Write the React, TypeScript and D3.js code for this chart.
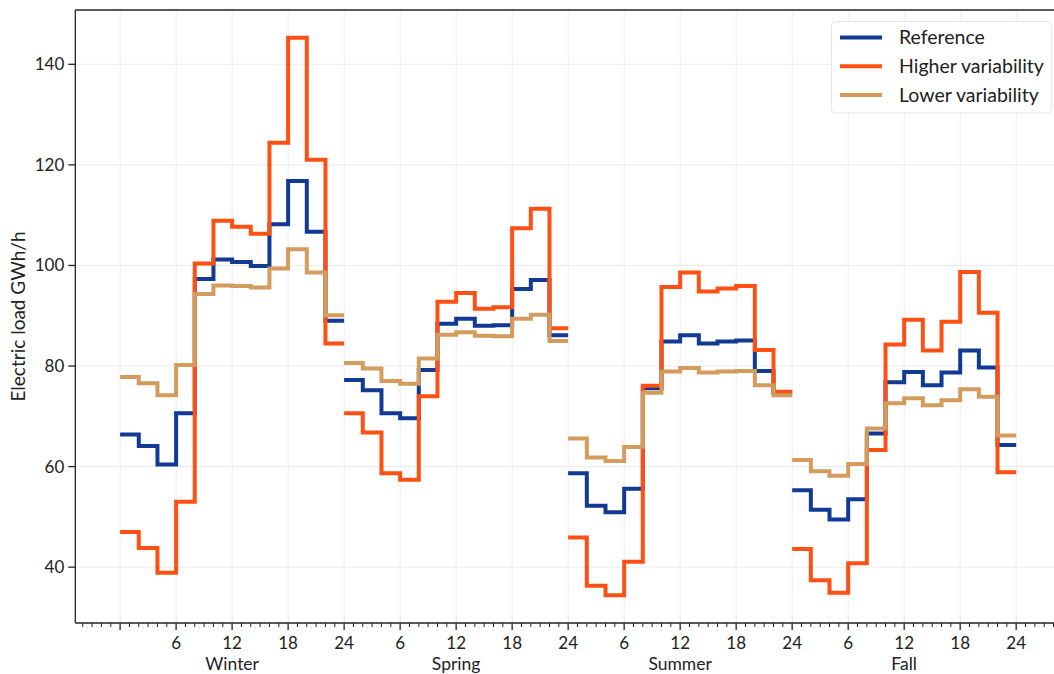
import React, { useEffect, useRef } from 'react';
import * as d3 from 'd3';

// two-hour blocks, 12 per season
const seasons = ['Winter', 'Spring', 'Summer', 'Fall'];
const hourTicks = ['', '6', '12', '18', '24'];

const reference = [
  66.4, 64.1, 60.4, 70.6, 97.3, 101.2, 100.7, 99.9, 108.2, 116.8, 106.7, 89.0,
  77.2, 75.2, 70.6, 69.6, 79.2, 88.4, 89.4, 88.0, 88.1, 95.3, 97.1, 86.1,
  58.7, 52.2, 50.9, 55.6, 75.6, 84.9, 86.1, 84.5, 84.9, 85.1, 79.0, 74.7,
  55.3, 51.4, 49.5, 53.5, 66.6, 76.8, 78.8, 76.2, 78.7, 83.1, 79.7, 64.3,
];
const higher = [
  47.0, 43.8, 38.9, 53.0, 100.4, 108.9, 107.7, 106.3, 124.4, 145.3, 121.0, 84.5,
  70.6, 66.8, 58.7, 57.4, 74.0, 92.8, 94.5, 91.4, 91.7, 107.4, 111.3, 87.5,
  45.9, 36.3, 34.4, 41.1, 76.1, 95.7, 98.6, 94.8, 95.4, 95.9, 83.2, 74.9,
  43.6, 37.4, 34.9, 40.8, 63.3, 84.3, 89.2, 83.1, 88.8, 98.7, 90.6, 58.9,
];
const lower = [
  77.8, 76.6, 74.2, 80.2, 94.3, 96.0, 95.9, 95.6, 99.4, 103.2, 98.6, 90.1,
  80.6, 79.5, 77.0, 76.5, 81.5, 86.2, 86.7, 86.0, 85.9, 89.4, 90.2, 85.0,
  65.6, 61.8, 61.1, 63.9, 74.7, 78.9, 79.6, 78.7, 78.9, 79.0, 76.2, 74.2,
  61.3, 59.1, 58.2, 60.5, 67.6, 72.6, 73.6, 72.2, 73.2, 75.4, 73.9, 66.2,
];

const series = [
  { name: 'Reference', values: reference, color: '#103a93' },
  { name: 'Higher variability', values: higher, color: '#ff5014' },
  { name: 'Lower variability', values: lower, color: '#d49c5c' },
];

const font = 'Lato, "Open Sans", sans-serif';

export default function App() {
  const ref = useRef<SVGSVGElement>(null);

  useEffect(() => {
    const svg = d3.select(ref.current);
    svg.selectAll('*').remove();

    const width = 1054;
    const left = 75.3, top = 10, bottom = 623;

    const x = d3.scaleLinear().domain([-4.8, 100.8]).range([left, 1061]);
    const y = d3.scaleLinear().domain([28.9, 150.8]).range([bottom, top]);

    const majors = d3.range(0, 97, 6);
    const minors = d3.range(-4, 101, 1).filter(h => h % 6 !== 0);
    const yTicks = [40, 60, 80, 100, 120, 140];

    // grid
    const grid = svg.append('g').attr('stroke', '#ebebeb').attr('stroke-width', 1);
    majors.forEach(h => {
      grid.append('line').attr('x1', x(h)).attr('x2', x(h)).attr('y1', top).attr('y2', bottom);
    });
    yTicks.forEach(v => {
      grid.append('line').attr('x1', left).attr('x2', width).attr('y1', y(v)).attr('y2', y(v));
    });

    // step lines, one path per season
    const line = d3.line<[number, number]>()
      .x(d => x(d[0]))
      .y(d => y(d[1]))
      .curve(d3.curveStepAfter);

    series.forEach(s => {
      seasons.forEach((_, si) => {
        const vals = s.values.slice(si * 12, si * 12 + 12);
        const pts: [number, number][] = vals.map((v, i) => [si * 24 + i * 2, v]);
        pts.push([si * 24 + 24, vals[vals.length - 1]]);
        svg.append('path')
          .datum(pts)
          .attr('fill', 'none')
          .attr('stroke', s.color)
          .attr('stroke-width', 4)
          .attr('d', line);
      });
    });

    // spines
    svg.append('line').attr('x1', left).attr('x2', width).attr('y1', top).attr('y2', top)
      .attr('stroke', '#222').attr('stroke-width', 1.3);
    svg.append('line').attr('x1', left).attr('x2', left).attr('y1', top).attr('y2', bottom)
      .attr('stroke', '#222').attr('stroke-width', 1.3);
    svg.append('line').attr('x1', left).attr('x2', width).attr('y1', bottom).attr('y2', bottom)
      .attr('stroke', '#222').attr('stroke-width', 1.3);

    // x ticks
    const xt = svg.append('g').attr('stroke', '#222').attr('stroke-width', 1);
    minors.forEach(h => {
      xt.append('line').attr('x1', x(h)).attr('x2', x(h)).attr('y1', bottom).attr('y2', bottom + 4);
    });
    majors.forEach(h => {
      xt.append('line').attr('x1', x(h)).attr('x2', x(h)).attr('y1', bottom).attr('y2', bottom + 7)
        .attr('stroke-width', 1.3);
    });
    svg.append('g').selectAll('text').data(majors).join('text')
      .attr('x', h => x(h))
      .attr('y', 649)
      .attr('text-anchor', 'middle')
      .attr('font-family', font)
      .attr('font-size', 17)
      .attr('fill', '#222')
      .text(h => (h === 0 ? '' : hourTicks[((h / 6 - 1) % 4) + 1]));

    svg.append('g').selectAll('text').data(seasons).join('text')
      .attr('x', (_, i) => x(i * 24 + 12))
      .attr('y', 670)
      .attr('text-anchor', 'middle')
      .attr('font-family', font)
      .attr('font-size', 17.5)
      .attr('fill', '#222')
      .text(d => d);

    // y ticks
    const yt = svg.append('g');
    yTicks.forEach(v => {
      yt.append('line').attr('x1', left - 7).attr('x2', left).attr('y1', y(v)).attr('y2', y(v))
        .attr('stroke', '#222').attr('stroke-width', 1.3);
      yt.append('text')
        .attr('x', left - 11)
        .attr('y', y(v))
        .attr('dy', '0.35em')
        .attr('text-anchor', 'end')
        .attr('font-family', font)
        .attr('font-size', 17)
        .attr('fill', '#222')
        .text(v);
    });

    svg.append('text')
      .attr('transform', `translate(25,${(top + bottom) / 2}) rotate(-90)`)
      .attr('text-anchor', 'middle')
      .attr('font-family', font)
      .attr('font-size', 19)
      .attr('fill', '#222')
      .text('Electric load GWh/h');

    // legend
    const lg = svg.append('g');
    lg.append('rect')
      .attr('x', 831.5).attr('y', 21.5).attr('width', 220).attr('height', 91.5)
      .attr('rx', 4).attr('fill', 'white').attr('fill-opacity', 0.9)
      .attr('stroke', '#e6e6e6');
    series.forEach((s, i) => {
      const ly = 37.5 + i * 28.7;
      lg.append('line').attr('x1', 840).attr('x2', 882).attr('y1', ly).attr('y2', ly)
        .attr('stroke', s.color).attr('stroke-width', 4);
      lg.append('text')
        .attr('x', 899).attr('y', ly).attr('dy', '0.35em')
        .attr('font-family', font).attr('font-size', 19.5).attr('fill', '#222')
        .text(s.name);
    });
  }, []);

  return (
    <svg ref={ref} width={1054} height={674}
      style={{ position: 'absolute', left: 0, top: 0, background: 'white' }} />
  );
}
